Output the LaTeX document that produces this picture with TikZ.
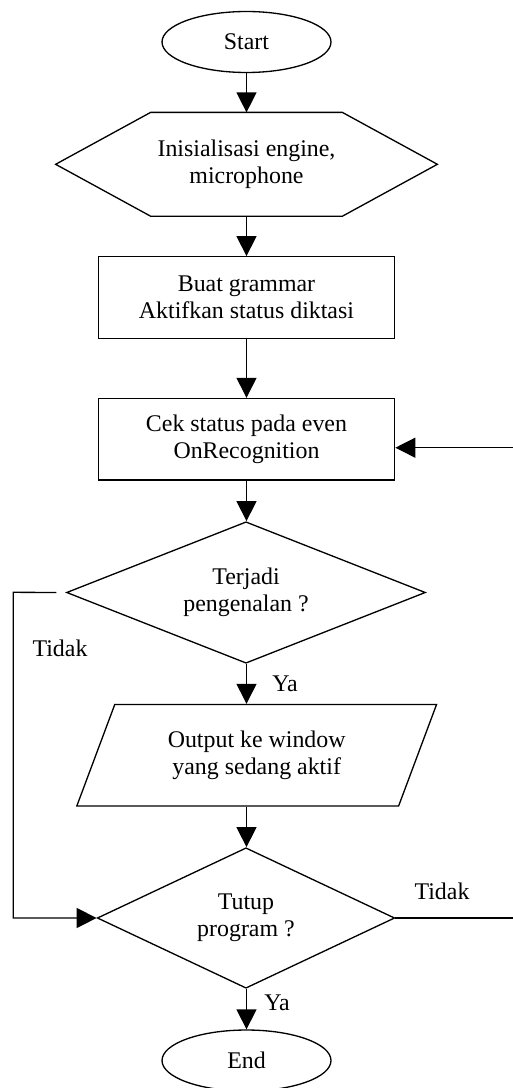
\documentclass[tikz,border=0pt]{standalone}
\usepackage{fontspec}
\setmainfont{Liberation Serif}
\usepackage{tikz}
\usetikzlibrary{shapes.geometric,arrows.meta}

\begin{document}
\begin{tikzpicture}[x=0.02cm, y=-0.02cm, line width=0.75pt,
        font=\fontsize{13.6}{15.6}\selectfont,
        arr/.style={-{Triangle[length=0.4cm,width=0.4cm]}},
        terminal/.style={draw, ellipse, minimum width=3.38cm, minimum height=1.22cm, inner sep=0pt},
        proses/.style={draw, rectangle, minimum width=5.93cm, minimum height=1.63cm, align=center},
        keputusan/.style={draw, diamond, aspect=2.5, inner sep=0pt, align=center}]
        \useasboundingbox (0,0) rectangle (513,1088);

        % Start and initialisation
        \node[terminal] (start) at (246.5,42) {Start};
        \node[minimum width=3.81cm, minimum height=2.05cm, inner sep=0pt, align=center] (init) at (246.5,164.3) {Inisialisasi engine,\\microphone};
        \draw (init.north west) -- (init.north east) -- ([xshift=1.9cm]init.east) -- (init.south east)
            -- (init.south west) -- ([xshift=-1.9cm]init.west) -- cycle;

        % Processing
        \node[proses] (grammar) at (246.5,297.5) {Buat grammar\\Aktifkan status diktasi};
        \node[proses] (cek) at (246.5,439.2) {Cek status pada even\\OnRecognition};

        % First decision
        \node[keputusan, minimum width=7.18cm, minimum height=2.83cm] (terjadi) at (246,592.5) {Terjadi\\pengenalan ?};

        % Output
        \node[draw, trapezium, trapezium left angle=67.4, trapezium right angle=112.6, trapezium stretches=true,
            minimum width=7.2cm, minimum height=2.03cm, align=center] (output) at (256.7,755.2) {Output ke window\\yang sedang aktif};

        % Second decision and end
        \node[keputusan, minimum width=5.95cm, minimum height=2.81cm] (tutup) at (246,918) {Tutup\\program ?};
        \node[terminal] (selesai) at (246.5,1060.5) {End};

        % Arrows down the column
        \draw[arr] (start) -- (init);
        \draw[arr] (init) -- (grammar);
        \draw[arr] (grammar) -- (cek);
        \draw[arr] (cek.south) -- (cek.south |- terjadi.north);
        \draw[arr] (cek.south |- terjadi.south) -- (cek.south |- output.north);
        \draw[arr] (cek.south |- output.south) -- (cek.south |- tutup.north);
        \draw[arr] (cek.south |- tutup.south) -- (selesai.north);

        % Loops
        \coordinate (kiri) at (13.3,592.3);
        \coordinate (kananA) at (514,917.3);
        \coordinate (kananB) at (514,447.7);
        \draw[arr] ([xshift=-0.19cm]terjadi.west) -- (kiri) |- (tutup.west);
        \draw (tutup.east) -- (tutup.east -| kananA);
        \draw[arr] (kananB) -- (kananB -| cek.east);

        % Annotations
        \node (ya1) at (285,684) {Ya};
        \node (ya2) at (277,1003) {Ya};
        \node (tidak1) at (60,648) {Tidak};
        \node (tidak2) at (442,891) {Tidak};
    \end{tikzpicture}
\end{document}
